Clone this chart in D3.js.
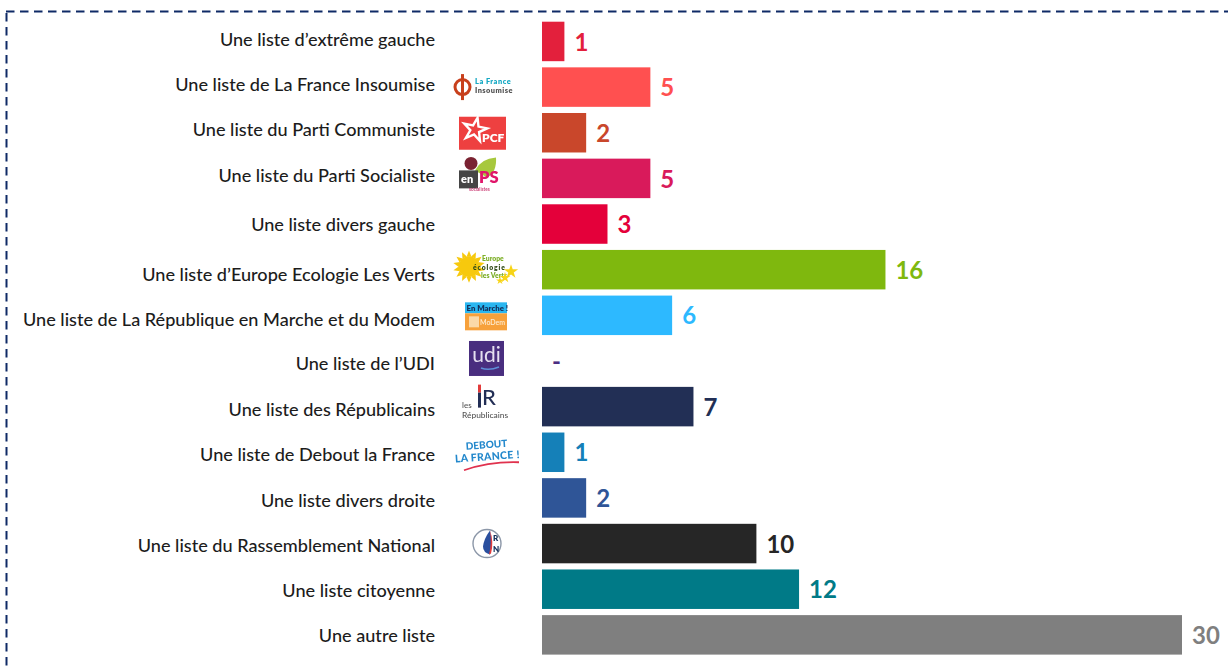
<!DOCTYPE html>
<html><head><meta charset="utf-8">
<script src="https://cdnjs.cloudflare.com/ajax/libs/d3/7.8.5/d3.min.js"></script>
<style>html,body{margin:0;padding:0;background:#fff;overflow:hidden}svg{display:block}text{font-family:Lato,"Open Sans",sans-serif}</style>
</head><body><div id="c"></div>
<script>
const categories=["Une liste d’extrême gauche","Une liste de La France Insoumise","Une liste du Parti Communiste","Une liste du Parti Socialiste","Une liste divers gauche","Une liste d’Europe Ecologie Les Verts","Une liste de La République en Marche et du Modem","Une liste de l’UDI","Une liste des Républicains","Une liste de Debout la France","Une liste divers droite","Une liste du Rassemblement National","Une liste citoyenne","Une autre liste"];
const values=[1.05,5.08,2.07,5.08,3.07,16.1,6.1,0,7.1,1.05,2.07,10.05,12.05,30];
const colors=["#E3203C","#FF5050","#C9472B","#D91A5B","#E4003A","#7FB80E","#2DB9FF","#4B2E83","#222F55","#1580B8","#2F5597","#262626","#007A87","#7F7F7F"];
const labelNudge=[-1.5,-2.5,-3.5,-3,1,5,4,3,3,2,2.5,2,1,1];

const W=1228,H=668;
const svg=d3.select("#c").append("svg").attr("width",W).attr("height",H);
const defs=svg.append("defs");
defs.append("filter").attr("id","soft").append("feGaussianBlur").attr("stdDeviation",0.45);
const borderCol="#0F2A66";
svg.append("path").attr("d",`M6,11.5H${W+5}`).attr("fill","none").attr("stroke",borderCol).attr("stroke-width",2).attr("stroke-dasharray","8.5 5.5");
svg.append("path").attr("d",`M6.5,13V${H+5}`).attr("fill","none").attr("stroke",borderCol).attr("stroke-width",2).attr("stroke-dasharray","8.5 5.5");

const x=d3.scaleLinear().domain([0,30]).range([542,1182]);
const y=d3.scaleBand().domain(categories).range([21.7,654.6]).paddingInner(0.135).paddingOuter(0);
const cy=d=>y(d)+y.bandwidth()/2;
const rows=categories.map((c,i)=>({c,v:values[i],col:colors[i],n:labelNudge[i]}));

svg.append("g").selectAll("rect").data(rows.filter(d=>d.v>0)).join("rect")
 .attr("x",x(0)).attr("y",d=>y(d.c)).attr("width",d=>x(d.v)-x(0)).attr("height",y.bandwidth()).attr("fill",d=>d.col);

svg.append("g").selectAll("text").data(rows).join("text")
 .attr("x",435).attr("y",d=>cy(d.c)+d.n).attr("dy","0.35em").attr("text-anchor","end")
 .attr("font-size",18.1).attr("font-weight",500).attr("fill","#1c1c1c").text(d=>d.c);

svg.append("g").selectAll("text").data(rows).join("text")
 .attr("x",d=>x(d.v)+10).attr("y",d=>cy(d.c)+0.5).attr("dy","0.36em")
 .attr("font-size",24).attr("font-weight",700).attr("fill",d=>d.col).text(d=>d.v===0?"-":Math.round(d.v));

/* logos */
const L=svg.append("g").attr("filter","url(#soft)");
const T=(g,s,px,py,fs,col,w=700,anchor="start",extra)=>{const t=g.append("text").attr("x",px).attr("y",py).attr("font-size",fs).attr("fill",col).attr("font-weight",w).attr("text-anchor",anchor).text(s);if(extra)t.attr("transform",extra);return t;};
const logo=(i,dx)=>L.append("g").attr("transform",`translate(${dx},${cy(categories[i])})`);

// LFI
let g=logo(1,452);
g.append("circle").attr("cx",10.5).attr("cy",0).attr("r",7.5).attr("fill","none").attr("stroke","#C8401E").attr("stroke-width",3);
g.append("path").attr("d","M10.5,-13V13").attr("stroke","#C8401E").attr("stroke-width",3);
T(g,"La France",23,-3,7.4,"#17A9C4",800).attr("letter-spacing",0.5);
T(g,"Insoumise",23,6,7.4,"#555",800).attr("letter-spacing",0.45);

// PCF
g=logo(2,459);
g.append("rect").attr("x",0).attr("y",-16).attr("width",47).attr("height",33).attr("fill","#EE3F3F");
g.append("path").attr("d",d3.symbol().type(d3.symbolStar).size(170)()).attr("transform","translate(16,-3) rotate(12)").attr("fill","none").attr("stroke","#fff").attr("stroke-width",2.4);
T(g,"PCF",23,9,12,"#fff",800);

// PS
g=logo(3,459);
g.append("path").attr("d","M16,-8Q22,-20 37,-21Q38,-6 28,-1Z").attr("fill","#A7C83C");
g.append("circle").attr("cx",12).attr("cy",-15).attr("r",6.5).attr("fill","#7A2330");
g.append("rect").attr("x",0).attr("y",-8).attr("width",19).attr("height",18).attr("fill","#444");
T(g,"en",2,5,11,"#fff",800);
T(g,"PS",20,5,16.5,"#E0176B",800);
T(g,"socialistes",10,12.5,4.6,"#C8336E",600);

// EELV
g=logo(5,456);
const sun=g.append("g").attr("transform","translate(13,-3)");
sun.selectAll("path").data(d3.range(14)).join("path").attr("d","M-2.5,-10L0,-16L2.5,-10Z").attr("fill","#F7C90F").attr("transform",d=>`rotate(${d*360/14})`);
sun.append("circle").attr("r",10.5).attr("fill","#F7C90F");
T(g,"Europe",26,-8.5,6.8,"#7FB02C",800);
T(g,"écologie",17,0,6.8,"#2F4A16",800).attr("letter-spacing",0.9);
T(g,"les Verts",25,8.5,6.8,"#7FB02C",800);
[[55,2,4],[49,8,3],[44,11,2.2]].forEach(p=>g.append("path").attr("d",d3.symbol().type(d3.symbolStar).size(p[2]*p[2]*4)()).attr("transform",`translate(${p[0]},${p[1]})`).attr("fill","#F7D417"));

// LREM
g=logo(6,465);
g.append("rect").attr("x",0).attr("y",-13).attr("width",42).attr("height",11).attr("fill","#29B6F0");
g.append("rect").attr("x",0).attr("y",-2).attr("width",42).attr("height",17).attr("fill","#F7A13A");
T(g,"En Marche !",1.5,-4.5,7.8,"#14305C",800);
g.append("rect").attr("x",4).attr("y",1).attr("width",10).attr("height",11).attr("fill","#FBD9A8");
T(g,"MoDem",15,10,7,"#FDEBD0",600);

// UDI
g=logo(7,469);
g.append("rect").attr("x",0).attr("y",-20).attr("width",35).attr("height",35).attr("fill","#4A2F7F");
T(g,"udi",17.5,1,21,"#E5E0F0",400,"middle");
g.append("path").attr("d","M12,7Q20,10 30,6").attr("stroke","#5E8FD8").attr("stroke-width",1.5).attr("fill","none");

// LR
g=logo(8,461);
g.append("rect").attr("x",17).attr("y",-22).attr("width",3).attr("height",8).attr("fill","#E23B3B");
g.append("rect").attr("x",17).attr("y",-14).attr("width",3).attr("height",15).attr("fill","#222F55");
T(g,"R",21,-2,22,"#222F55",500);
T(g,"les",1,1.5,8,"#555",500);T(g,"Républicains",1,11.5,8.4,"#555",500);

// DLF
g=logo(9,455);
T(g,"DEBOUT",32,-4,10,"#2488CC",900,"middle","rotate(-4 32 0)");
T(g,"LA FRANCE !",32,8,10.5,"#2488CC",900,"middle","rotate(-4 32 0)").attr("letter-spacing",0.3);
g.append("path").attr("d","M9,18Q35,9 64,10").attr("fill","none").attr("stroke","#E0304E").attr("stroke-width",1.8);

// RN
g=logo(11,472);
g.append("circle").attr("cx",15).attr("cy",0).attr("r",14).attr("fill","#fff").attr("stroke","#8C97A8").attr("stroke-width",1.4);
g.append("path").attr("d","M18,-13Q21,0 18,11Q11,9 11,3Q12,-5 18,-13Z").attr("fill","#2B4F9E");
g.append("path").attr("d","M18,-13Q22,-2 19,10L17,11Q20,0 18,-13Z").attr("fill","#E23B3B");
T(g,"R",21,-2.5,8,"#14305C",800);T(g,"N",21,8,8,"#14305C",800);
</script></body></html>
